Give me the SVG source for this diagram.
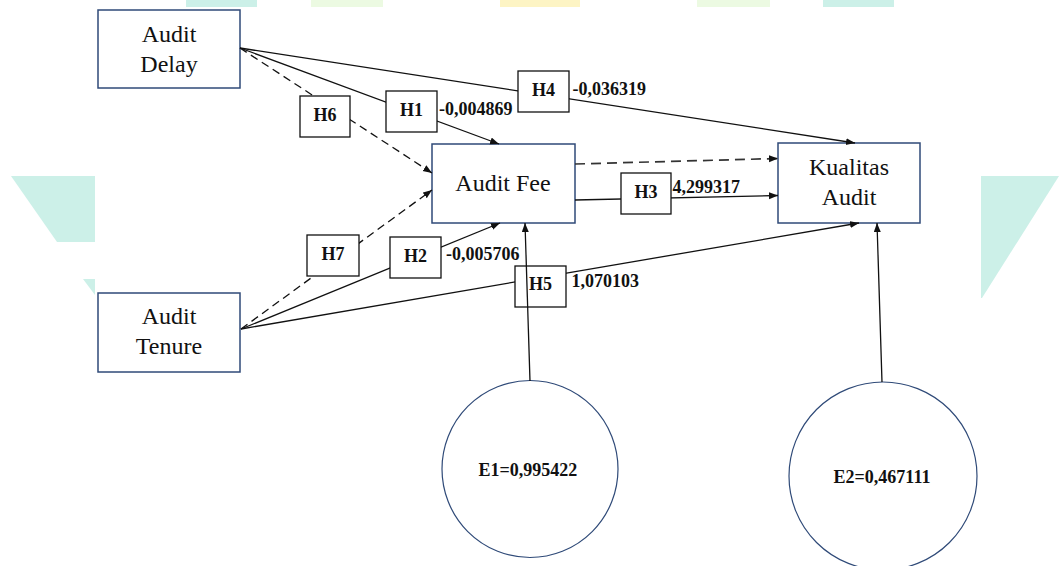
<svg xmlns="http://www.w3.org/2000/svg" width="1059" height="566" viewBox="0 0 1059 566">
  <style>
    .node { fill: #ffffff; stroke: #2f4a78; stroke-width: 1.5; }
    .circ { fill: #ffffff; stroke: #2f4a78; stroke-width: 1.2; }
    .ntext { font-family: "Liberation Serif", "Times New Roman", serif; font-size: 24px; fill: #111; text-anchor: middle; }
    .hbox { fill: #ffffff; stroke: #111; stroke-width: 1.3; }
    .htext { font-family: "Liberation Serif", "Times New Roman", serif; font-size: 18px; font-weight: bold; fill: #111; text-anchor: middle; }
    .val { font-family: "Liberation Serif", "Times New Roman", serif; font-size: 18px; font-weight: bold; fill: #111; }
    .edge { fill: none; stroke: #111; stroke-width: 1.3; marker-end: url(#arrow); }
    .dash { stroke-dasharray: 8 5; }
    .dash2 { stroke-dasharray: 10 6; stroke-width: 1.7; stroke: #333; }
    .teal { fill: #ccf0e8; }
  </style>
  <defs>
    <marker id="arrow" markerUnits="userSpaceOnUse" markerWidth="10" markerHeight="8" refX="9" refY="3.5" orient="auto">
      <path d="M0,0 L9,3.5 L0,7 z" fill="#111"/>
    </marker>
  </defs>
  <rect width="1059" height="566" fill="#ffffff"/>
  <g id="watermark">
    <rect class="teal" x="186" y="0" width="71" height="7"/>
    <rect x="311" y="0" width="72" height="7" fill="#ecfae2"/>
    <rect x="500" y="0" width="80" height="7" fill="#fdf4c4"/>
    <rect x="697" y="0" width="73" height="7" fill="#ecfae2"/>
    <rect class="teal" x="823" y="0" width="71" height="7"/>
    <polygon class="teal" points="11,176 95,176 95,242 57,242"/>
    <polygon class="teal" points="83,279 95,279 95,295"/>
    <polygon class="teal" points="981,176 1059,176 982,298 981,298"/>
  </g>
  <g id="node-audit-delay">
    <rect class="node" x="98" y="10" width="142" height="78"/>
    <text class="ntext" x="169" y="41.5">Audit</text>
    <text class="ntext" x="169" y="71.5">Delay</text>
  </g>
  <g id="node-audit-tenure">
    <rect class="node" x="98" y="293" width="142" height="79"/>
    <text class="ntext" x="169" y="323.5">Audit</text>
    <text class="ntext" x="169" y="354">Tenure</text>
  </g>
  <g id="node-audit-fee">
    <rect class="node" x="432" y="144" width="143" height="79"/>
    <text class="ntext" x="503" y="190.5">Audit Fee</text>
  </g>
  <g id="node-kualitas-audit">
    <rect class="node" x="778" y="143" width="142" height="80"/>
    <text class="ntext" x="849" y="174.5">Kualitas</text>
    <text class="ntext" x="849" y="205">Audit</text>
  </g>
  <g id="node-e1">
    <ellipse class="circ" cx="530" cy="469" rx="88" ry="88.5"/>
    <text class="val" x="528" y="475.5" text-anchor="middle">E1=0,995422</text>
  </g>
  <g id="node-e2">
    <ellipse class="circ" cx="883" cy="476" rx="94" ry="94"/>
    <text class="val" x="882" y="482.5" text-anchor="middle">E2=0,467111</text>
  </g>
  <g id="connectors">
    <g id="edge-h4">
      <line class="edge" x1="240" y1="48" x2="855" y2="143"/>
      <rect class="hbox" x="518" y="71" width="51" height="41"/>
      <text class="htext" x="543.5" y="95.5">H4</text>
      <text class="val" x="572.5" y="95">-0,036319</text>
    </g>
    <g id="edge-h1">
      <line class="edge" x1="240" y1="48" x2="499" y2="144"/>
      <rect class="hbox" x="386" y="91" width="51" height="41"/>
      <text class="htext" x="411.5" y="116">H1</text>
      <text class="val" x="439" y="115">-0,004869</text>
    </g>
    <g id="edge-h6">
      <line class="edge dash" x1="240" y1="48" x2="432" y2="173"/>
      <rect class="hbox" x="300" y="96" width="50" height="41"/>
      <text class="htext" x="325" y="121">H6</text>
    </g>
    <g id="edge-fee-kualitas-dashed">
      <line class="edge dash2" x1="575" y1="164" x2="778" y2="158.5"/>
    </g>
    <g id="edge-h3">
      <line class="edge" x1="575" y1="200" x2="778" y2="195.5"/>
      <rect class="hbox" x="621" y="173" width="50" height="41"/>
      <text class="htext" x="646" y="197.5">H3</text>
      <text class="val" x="672.5" y="193">4,299317</text>
    </g>
    <g id="edge-h7">
      <line class="edge dash" x1="241" y1="329" x2="432" y2="190"/>
      <rect class="hbox" x="307" y="235" width="52" height="41"/>
      <text class="htext" x="333" y="260">H7</text>
    </g>
    <g id="edge-h2">
      <line class="edge" x1="241" y1="329" x2="500" y2="223"/>
      <rect class="hbox" x="390" y="237" width="51" height="41"/>
      <text class="htext" x="415.5" y="262">H2</text>
      <text class="val" x="446" y="259.5">-0,005706</text>
    </g>
    <g id="edge-h5">
      <line class="edge" x1="241" y1="329" x2="859" y2="223"/>
      <rect class="hbox" x="515" y="266" width="51" height="41"/>
      <text class="htext" x="540.5" y="290">H5</text>
      <text class="val" x="571.5" y="286.5">1,070103</text>
    </g>
    <g id="edge-e2">
      <line class="edge" x1="882" y1="382" x2="877" y2="223"/>
    </g>
    <g id="edge-e1">
      <line class="edge" x1="530" y1="381" x2="525" y2="223"/>
    </g>
  </g>
</svg>
